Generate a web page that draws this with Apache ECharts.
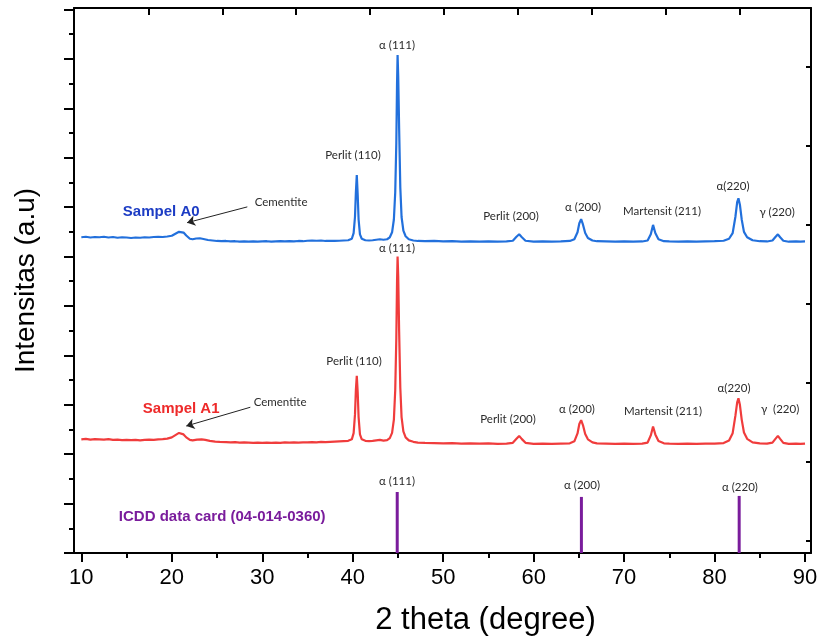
<!DOCTYPE html>
<html><head><meta charset="utf-8">
<script src="https://cdn.jsdelivr.net/npm/echarts@6/dist/echarts.min.js"></script>
<style>html,body{margin:0;padding:0;background:#fff}#c{width:817px;height:637px}</style>
</head><body><div id="c"></div>
<script>
// ---- data (2theta in degrees, intensity in arbitrary units, stacked offsets as in the figure) ----
const sampleA0 = [
[10.0,12.78],[10.5,12.80],[11.0,12.77],[11.5,12.79],[12.0,12.78],[12.5,12.80],[13.0,12.77],[13.5,12.79],[14.0,12.76],[14.5,12.78],
[15.0,12.77],[15.5,12.75],[16.0,12.77],[16.5,12.76],[17.0,12.78],[17.5,12.77],[18.0,12.79],[18.5,12.80],[19.0,12.79],[19.5,12.81],
[20.0,12.84],[20.4,12.92],[20.8,13.00],[21.0,13.02],[21.3,12.97],[21.6,12.85],[22.0,12.72],[22.3,12.70],[22.7,12.73],[23.1,12.74],
[23.5,12.71],[24.0,12.67],[24.5,12.65],[25.0,12.63],[25.5,12.62],[26.0,12.63],[26.5,12.61],[27.0,12.62],[27.5,12.60],[28.0,12.61],
[28.5,12.60],[29.0,12.61],[29.5,12.60],[30.0,12.61],[30.5,12.62],[31.0,12.60],[31.5,12.61],[32.0,12.62],[32.5,12.61],[33.0,12.62],
[33.5,12.61],[34.0,12.63],[34.5,12.62],[35.0,12.64],[35.5,12.65],[36.0,12.64],[36.5,12.65],[37.0,12.63],[37.5,12.64],[38.0,12.63],
[38.5,12.64],[39.0,12.65],[39.5,12.66],[39.9,12.72],[40.1,12.95],[40.25,13.6],[40.35,14.6],[40.45,15.30],[40.55,14.5],[40.65,13.5],
[40.8,12.9],[41.0,12.72],[41.4,12.66],[41.8,12.65],[42.2,12.66],[42.6,12.68],[43.0,12.70],[43.4,12.68],[43.8,12.70],[44.1,12.78],
[44.35,12.98],[44.55,13.5],[44.7,14.6],[44.82,16.6],[44.9,19.0],[44.96,20.16],[45.03,19.3],[45.13,17.2],[45.26,14.8],[45.4,13.6],
[45.6,13.05],[45.85,12.82],[46.2,12.70],[46.7,12.65],[47.2,12.63],[48.0,12.62],[49.0,12.63],[50.0,12.61],[51.0,12.62],[52.0,12.60],
[53.0,12.61],[54.0,12.60],[55.0,12.61],[56.0,12.60],[57.0,12.61],[57.7,12.64],[58.1,12.80],[58.4,12.90],[58.7,12.78],[59.1,12.64],
[60.0,12.60],[61.0,12.61],[62.0,12.60],[63.0,12.61],[64.0,12.63],[64.5,12.70],[64.85,12.98],[65.05,13.35],[65.25,13.51],[65.45,13.30],
[65.7,12.95],[66.0,12.75],[66.5,12.65],[67.0,12.62],[68.0,12.61],[69.0,12.60],[70.0,12.61],[71.0,12.60],[72.0,12.61],[72.6,12.65],
[72.95,12.90],[73.2,13.28],[73.45,12.95],[73.8,12.70],[74.4,12.62],[75.0,12.61],[76.0,12.60],[77.0,12.61],[78.0,12.60],[79.0,12.61],
[80.0,12.62],[81.0,12.64],[81.6,12.72],[82.0,12.95],[82.3,13.6],[82.5,14.2],[82.64,14.36],[82.8,14.1],[83.0,13.5],[83.25,13.0],
[83.6,12.78],[84.2,12.66],[85.0,12.62],[85.8,12.61],[86.4,12.65],[86.75,12.80],[87.0,12.90],[87.25,12.78],[87.6,12.64],[88.2,12.60],
[89.0,12.61],[89.5,12.60],[90.0,12.61]
];
const sampleA1 = [
[10.0,4.60],[10.5,4.62],[11.0,4.59],[11.5,4.61],[12.0,4.60],[12.5,4.59],[13.0,4.61],[13.5,4.58],[14.0,4.59],[14.5,4.57],
[15.0,4.58],[15.5,4.57],[16.0,4.58],[16.5,4.56],[17.0,4.58],[17.5,4.59],[18.0,4.58],[18.5,4.60],[19.0,4.61],[19.5,4.63],
[20.0,4.68],[20.4,4.77],[20.8,4.86],[21.0,4.87],[21.3,4.80],[21.6,4.68],[22.0,4.58],[22.3,4.56],[22.8,4.59],[23.3,4.60],
[23.7,4.58],[24.2,4.54],[24.8,4.51],[25.3,4.50],[26.0,4.49],[26.5,4.48],[27.0,4.49],[27.5,4.47],[28.0,4.48],[28.5,4.47],
[29.0,4.46],[29.5,4.47],[30.0,4.46],[30.5,4.47],[31.0,4.46],[31.5,4.47],[32.0,4.46],[32.5,4.48],[33.0,4.47],[33.5,4.48],
[34.0,4.47],[34.5,4.48],[35.0,4.48],[35.5,4.49],[36.0,4.48],[36.5,4.50],[37.0,4.49],[37.5,4.50],[38.0,4.51],[38.5,4.52],
[39.0,4.53],[39.5,4.54],[39.9,4.60],[40.1,4.85],[40.25,5.6],[40.35,6.6],[40.45,7.17],[40.55,6.5],[40.65,5.5],[40.8,4.8],
[41.0,4.60],[41.4,4.54],[41.8,4.53],[42.2,4.54],[42.6,4.56],[43.0,4.58],[43.4,4.55],[43.8,4.57],[44.1,4.65],[44.35,4.86],
[44.55,5.4],[44.7,6.6],[44.82,8.7],[44.9,11.0],[44.96,12.0],[45.03,11.2],[45.13,9.0],[45.26,6.7],[45.4,5.5],[45.6,4.92],
[45.85,4.68],[46.2,4.56],[46.7,4.50],[47.2,4.47],[48.0,4.46],[49.0,4.45],[50.0,4.44],[51.0,4.45],[52.0,4.43],[53.0,4.44],
[54.0,4.43],[55.0,4.44],[56.0,4.42],[57.0,4.43],[57.7,4.46],[58.1,4.62],[58.4,4.74],[58.7,4.61],[59.1,4.46],[60.0,4.42],
[61.0,4.43],[62.0,4.42],[63.0,4.43],[64.0,4.44],[64.5,4.52],[64.85,4.84],[65.05,5.22],[65.25,5.38],[65.45,5.18],[65.7,4.82],
[66.0,4.60],[66.5,4.48],[67.0,4.44],[68.0,4.43],[69.0,4.42],[70.0,4.43],[71.0,4.42],[72.0,4.43],[72.6,4.47],[72.95,4.76],
[73.2,5.12],[73.45,4.80],[73.8,4.53],[74.4,4.44],[75.0,4.43],[76.0,4.42],[77.0,4.43],[78.0,4.42],[79.0,4.43],[80.0,4.43],
[81.0,4.45],[81.6,4.55],[82.0,4.85],[82.3,5.55],[82.5,6.1],[82.64,6.26],[82.8,6.0],[83.0,5.4],[83.25,4.88],[83.6,4.62],
[84.2,4.48],[85.0,4.44],[85.8,4.43],[86.4,4.47],[86.75,4.63],[87.0,4.74],[87.25,4.62],[87.6,4.46],[88.2,4.42],[89.0,4.43],
[89.5,4.42],[90.0,4.43]
];
const icddPeaks = [[44.92,2.47],[65.28,2.27],[82.72,2.31]];

// tick labels / tick values
const xTickValues = [10,20,30,40,50,60,70,80,90];
const xMinorTickValues = [15,25,35,45,55,65,75,85];
const yMajorTickValues = [0,2,4,6,8,10,12,14,16,18,20,22];
const yMinorTickValues = [1,3,5,7,9,11,13,15,17,19,21];
const rightTickValues = [0,1,2,3,4,5,6];
// top-edge ticks (an unlabeled frame scale that does not coincide with the 2θ ticks), in 2θ units
const topTickValues = [17.41,25.58,33.75,41.92,50.09,58.26,66.43,74.60,82.77];

// annotations: [text, 2theta, intensity]
const labelsA0 = [
  ['α (111)',44.90,20.55],['Perlit (110)',40.03,16.09],['Cementite',32.08,14.19],['Perlit (200)',57.50,13.62],
  ['α (200)',65.46,14.01],['Martensit (211)',74.19,13.83],['α(220)',82.04,14.84],['γ (220)',86.91,13.79]
];
const labelsA1 = [
  ['α (111)',44.90,12.33],['Perlit (110)',40.15,7.75],['Cementite',31.97,6.09],['Perlit (200)',57.17,5.40],
  ['α (200)',64.79,5.81],['Martensit (211)',74.30,5.73],['α(220)',82.15,6.66],['γ  (220)',87.24,5.83]
];
const labelsICDD = [['α (111)',44.90,2.91],['α (200)',65.35,2.75],['α (220)',82.81,2.67]];
const seriesTitles = [
  ['Sampel A0',18.83,13.81,'#1c3cc4'],
  ['Sampel A1',21.04,5.85,'#ee2a2a'],
  ['ICDD data card (04-014-0360)',25.57,1.46,'#7a1c9c']
];
const arrowA0 = [[28.35,14.01],[21.69,13.37]];
const arrowA1 = [[28.68,5.90],[21.60,5.14]];

const BLUE = '#2270dc', RED = '#f03c3c', PURPLE = '#7a1c9c';
const AX = {color:'#000', width:2};
const chart = echarts.init(document.getElementById('c'), null, {renderer:'canvas'});
const XMIN = 9.19, XMAX = 90.66, YMAX = 22.06;
const GRID = {left:74, top:8, right:6, bottom:84, containLabel:false, outerBoundsMode:'none'};

const option = {
  animation:false,
  backgroundColor:'#fff',
  grid:[Object.assign({}, GRID), Object.assign({}, GRID)],
  xAxis:[
    {type:'value', gridIndex:0, position:'bottom', min:XMIN, max:XMAX,
     axisLine:{show:true, onZero:false, lineStyle:AX},
     axisTick:{show:true, customValues:xTickValues, length:9, lineStyle:AX},
     axisLabel:{show:true, customValues:xTickValues, margin:14, fontSize:22, color:'#000', fontFamily:'Liberation Sans, Arial'},
     splitLine:{show:false},
     name:'2 theta (degree)', nameLocation:'middle', nameGap:52,
     nameTextStyle:{fontSize:31, color:'#000', fontFamily:'Liberation Sans, Arial', padding:[0,0,0,86]}},
    {type:'value', gridIndex:0, position:'top', min:XMIN, max:XMAX,
     axisLine:{show:true, onZero:false, lineStyle:AX},
     axisTick:{show:true, inside:true, customValues:topTickValues, length:7, lineStyle:AX},
     axisLabel:{show:false, customValues:topTickValues}, splitLine:{show:false}},
    {type:'value', gridIndex:1, position:'bottom', min:XMIN, max:XMAX,
     axisLine:{show:false, onZero:false},
     axisTick:{show:true, customValues:xMinorTickValues, length:5, lineStyle:AX},
     axisLabel:{show:false}, splitLine:{show:false}}
  ],
  yAxis:[
    {type:'value', gridIndex:0, position:'left', min:0, max:YMAX,
     axisLine:{show:true, onZero:false, lineStyle:AX},
     axisTick:{show:true, customValues:yMajorTickValues, length:10, lineStyle:AX},
     axisLabel:{show:false}, splitLine:{show:false},
     name:'Intensitas (a.u)', nameLocation:'middle', nameGap:34, nameRotate:90,
     nameTextStyle:{fontSize:28, color:'#000', fontFamily:'Liberation Sans, Arial'}},
    {type:'value', gridIndex:0, position:'right', min:-0.152, max:6.747,
     axisLine:{show:true, onZero:false, lineStyle:AX},
     axisTick:{show:true, inside:true, customValues:rightTickValues, length:5, lineStyle:AX},
     axisLabel:{show:false}, splitLine:{show:false}},
    {type:'value', gridIndex:1, position:'left', min:0, max:YMAX,
     axisLine:{show:false, onZero:false},
     axisTick:{show:true, customValues:yMinorTickValues, length:5, lineStyle:AX},
     axisLabel:{show:false}, splitLine:{show:false}}
  ],
  series:[
    {type:'line', name:'Sampel A0', data:sampleA0, xAxisIndex:0, yAxisIndex:0, showSymbol:false, symbol:'none',
     lineStyle:{color:BLUE, width:2.2}, z:3,
     markLine:{silent:true, symbol:['none','arrow'], symbolSize:8, label:{show:false},
       lineStyle:{color:'#222', width:1, type:'solid'},
       data:[[{coord:arrowA0[0]},{coord:arrowA0[1]}]]}},
    {type:'line', name:'Sampel A1', data:sampleA1, xAxisIndex:0, yAxisIndex:0, showSymbol:false, symbol:'none',
     lineStyle:{color:RED, width:2.2}, z:3,
     markLine:{silent:true, symbol:['none','arrow'], symbolSize:8, label:{show:false},
       lineStyle:{color:'#222', width:1, type:'solid'},
       data:[[{coord:arrowA1[0]},{coord:arrowA1[1]}]]}},
    {type:'bar', name:'ICDD', data:icddPeaks, xAxisIndex:0, yAxisIndex:0, barWidth:3,
     itemStyle:{color:PURPLE}}
  ]
};
chart.setOption(option);

const g = [];
function addText(arr, font, color){
  arr.forEach(a => {
    const p = chart.convertToPixel({xAxisIndex:0, yAxisIndex:0}, [a[1], a[2]]);
    g.push({type:'text', x:p[0], y:p[1], z:10,
      style:{text:a[0], font:font, fill:a[3] || color, align:'center', verticalAlign:'middle'}});
  });
}
addText(labelsA0, '11.5px Lato, "Open Sans", sans-serif', '#2b2b2b');
addText(labelsA1, '11.5px Lato, "Open Sans", sans-serif', '#2b2b2b');
addText(labelsICDD, '11.5px Lato, "Open Sans", sans-serif', '#2b2b2b');
addText(seriesTitles, 'bold 15px "Liberation Sans", Arial, sans-serif', '#000');
chart.setOption({graphic:g});
</script></body></html>
